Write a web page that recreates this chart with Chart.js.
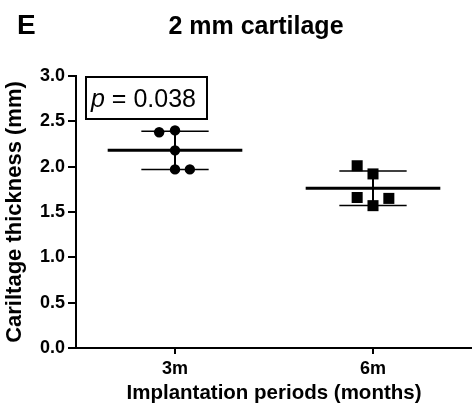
<!DOCTYPE html>
<html>
<head>
<meta charset="utf-8">
<script src="https://cdn.jsdelivr.net/npm/chart.js@4.4.1/dist/chart.umd.min.js"></script>
<style>
  html, body { margin: 0; padding: 0; background: #fff; }
  #wrap { width: 472px; height: 414px; }
</style>
</head>
<body>
<div id="wrap"><canvas id="myChart" width="472" height="414"></canvas></div>
<script>

// data
var groups = ['3m', '6m'];
var thickness3m = [2.38, 2.40, 2.18, 1.97, 1.97];
var thickness6m = [2.01, 1.92, 1.66, 1.65, 1.57];
var yTicks = [0.0, 0.5, 1.0, 1.5, 2.0, 2.5, 3.0];
var pValue = '0.038';

// horizontal scatter so the dots don't sit on top of each other
var jitter3m = [-0.08, 0, 0, 0, 0.075];
var jitter6m = [-0.08, 0, -0.08, 0.08, 0];

var fontFamily = "'Liberation Sans', Arial, sans-serif";

function mean(arr) {
    var s = 0;
    for (var i = 0; i < arr.length; i++) s += arr[i];
    return s / arr.length;
}

function sd(arr) {
    var m = mean(arr), s = 0;
    for (var i = 0; i < arr.length; i++) s += (arr[i] - m) * (arr[i] - m);
    return Math.sqrt(s / (arr.length - 1));
}

function points(values, x, jitter) {
    var out = [];
    for (var i = 0; i < values.length; i++) {
        out.push({x: x + jitter[i], y: values[i]});
    }
    return out;
}

function lineSet(data, width) {
    return {
        data: data,
        showLine: true,
        borderColor: '#000',
        borderWidth: width,
        pointRadius: 0,
        pointHoverRadius: 0,
        order: 2
    };
}

var datasets = [
    {
        data: points(thickness3m, 1, jitter3m),
        pointStyle: 'circle',
        pointRadius: 5.2,
        backgroundColor: '#000',
        borderColor: '#000',
        borderWidth: 0,
        order: 1
    },
    {
        data: points(thickness6m, 2, jitter6m),
        pointStyle: 'rect',
        pointRadius: 7.8,
        backgroundColor: '#000',
        borderColor: '#000',
        borderWidth: 0,
        order: 1
    }
];

var series = [thickness3m, thickness6m];
for (var g = 0; g < series.length; g++) {
    var x = g + 1;
    var m = mean(series[g]);
    var s = sd(series[g]);
    datasets.push(lineSet([{x: x - 0.34, y: m}, {x: x + 0.34, y: m}], 3));
    datasets.push(lineSet([{x: x - 0.17, y: m + s}, {x: x + 0.17, y: m + s}], 1.5));
    datasets.push(lineSet([{x: x - 0.17, y: m - s}, {x: x + 0.17, y: m - s}], 1.5));
    datasets.push(lineSet([{x: x, y: m - s}, {x: x, y: m + s}], 2));
}

// panel letter, title and the p value box
var textPlugin = {
    id: 'extraText',
    afterDraw: function (chart) {
        var ctx = chart.ctx;
        ctx.save();
        ctx.fillStyle = '#000';
        ctx.textBaseline = 'alphabetic';

        ctx.font = 'bold 28px ' + fontFamily;
        ctx.textAlign = 'left';
        ctx.fillText('E', 17, 34);

        ctx.font = 'bold 25px ' + fontFamily;
        ctx.textAlign = 'center';
        ctx.fillText('2 mm cartilage', 256, 34);

        ctx.lineWidth = 2;
        ctx.strokeStyle = '#000';
        ctx.strokeRect(86, 77, 121, 42);

        ctx.textAlign = 'left';
        ctx.font = 'italic 25px ' + fontFamily;
        ctx.fillText('p', 91, 107);
        var w = ctx.measureText('p').width;
        ctx.font = '25px ' + fontFamily;
        ctx.fillText(' = ' + pValue, 91 + w, 107);
        ctx.restore();
    }
};

var ctx = document.getElementById('myChart');

var chart = new Chart(ctx, {
    type: 'scatter',
    data: {datasets: datasets},
    options: {
        responsive: false,
        animation: false,
        devicePixelRatio: 1,
        layout: {autoPadding: false, padding: {top: 76, right: 0, bottom: 0, left: 0}},
        plugins: {
            legend: {display: false},
            tooltip: {enabled: false},
            title: {display: false}
        },
        scales: {
            x: {
                type: 'linear',
                min: 0.5,
                max: 2.5,
                afterFit: function (scale) {
                    scale.height = 66;
                    scale.paddingLeft = 0;
                    scale.paddingRight = 0;
                },
                afterBuildTicks: function (scale) {
                    scale.ticks = [{value: 1}, {value: 2}];
                },
                ticks: {
                    color: '#000',
                    padding: 4,
                    font: {family: fontFamily, size: 18, weight: 'bold'},
                    callback: function (v) { return groups[Math.round(v) - 1]; }
                },
                grid: {
                    drawOnChartArea: false,
                    drawTicks: true,
                    tickLength: 6,
                    color: '#000',
                    lineWidth: 2
                },
                border: {display: true, color: '#000', width: 2},
                title: {
                    display: true,
                    text: 'Implantation periods (months)',
                    color: '#000',
                    font: {family: fontFamily, size: 20.5, weight: 'bold'},
                    padding: {top: 0, bottom: 8}
                }
            },
            y: {
                min: 0,
                max: 3,
                afterFit: function (scale) {
                    scale.width = 76;
                    scale.paddingTop = 0;
                    scale.paddingBottom = 0;
                },
                afterBuildTicks: function (scale) {
                    scale.ticks = yTicks.map(function (v) { return {value: v}; });
                },
                ticks: {
                    color: '#000',
                    padding: 3,
                    font: {family: fontFamily, size: 18, weight: 'bold'},
                    callback: function (v) { return v.toFixed(1); }
                },
                grid: {
                    drawOnChartArea: false,
                    drawTicks: true,
                    tickLength: 8,
                    color: '#000',
                    lineWidth: 2
                },
                border: {display: true, color: '#000', width: 2},
                title: {
                    display: true,
                    text: 'Cariltage thickness (mm)',
                    color: '#000',
                    font: {family: fontFamily, size: 22, weight: 'bold'},
                    padding: {top: 2, bottom: 0}
                }
            }
        }
    },
    plugins: [textPlugin]
});

</script>
</body>
</html>
